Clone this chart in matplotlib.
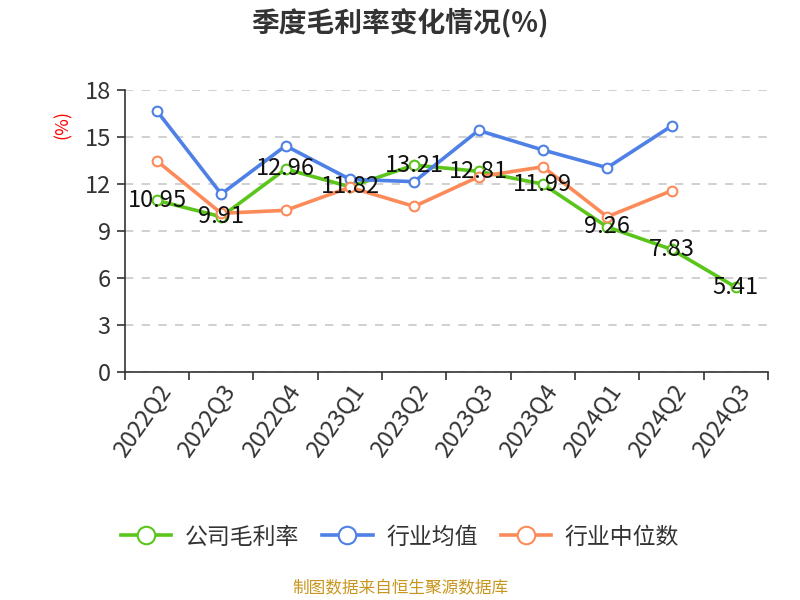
import matplotlib
matplotlib.use("Agg")
from matplotlib import pyplot as plt

plt.rcParams['font.family'] = ['Noto Sans CJK SC', 'DejaVu Sans']

quarters = ["2022Q2", "2022Q3", "2022Q4", "2023Q1", "2023Q2",
            "2023Q3", "2023Q4", "2024Q1", "2024Q2", "2024Q3"]
company = [10.95, 9.91, 12.96, 11.82, 13.21, 12.81, 11.99, 9.26, 7.83, 5.41]
ind_mean = [16.66, 11.36, 14.44, 12.3, 12.15, 15.42, 14.17, 13.04, 15.7]
ind_median = [13.47, 10.13, 10.32, 11.79, 10.57, 12.46, 13.1, 9.91, 11.57]

green = '#5bc51c'
blue = '#4e80e5'
orange = '#fd8b5a'

fig = plt.figure(figsize=(8, 6), dpi=100)
ax = fig.add_axes([0.156, 0.38, 0.804, 0.47])

x = list(range(len(quarters)))
style = dict(linewidth=2.6, marker='o', markersize=7, markerfacecolor='white',
             markeredgewidth=1.5)
ax.plot(x, company, color=green, label='公司毛利率', zorder=3, **style)
ax.plot(x[:len(ind_mean)], ind_mean, color=blue, label='行业均值', zorder=3, **style)
ax.plot(x[:len(ind_median)], ind_median, color=orange, label='行业中位数', zorder=3, **style)

for i, v in enumerate(company):
    ax.text(i, v, "{:.2f}".format(v), ha='center', va='center', fontsize=17,
            color='#111111', zorder=5, fontweight='light')

ax.set_xlim(-0.5, len(quarters) - 0.5)
ax.set_ylim(0, 18)
ax.set_yticks(range(0, 19, 3))
ax.set_xticks([i - 0.5 for i in range(len(quarters) + 1)], minor=False)
ax.set_xticklabels([])
ax.set_xticks(x, minor=True)
ax.set_xticklabels(quarters, minor=True, rotation=55, ha='right',
                   rotation_mode='anchor', fontsize=17, color='#333333',
                   fontweight='light')
ax.tick_params(axis='x', which='minor', length=0, pad=6)
ax.tick_params(axis='x', which='major', length=6, width=1.2, color='#333333')
ax.tick_params(axis='y', length=6, width=1.2, color='#333333', labelsize=17,
               labelcolor='#333333', pad=4)
for lab in ax.get_yticklabels():
    lab.set_fontweight('light')

ax.grid(axis='y', linestyle=(0, (5, 5)), color='#c8c8c8', linewidth=1.2)
ax.set_axisbelow(True)
for s in ['top', 'right']:
    ax.spines[s].set_visible(False)
for s in ['left', 'bottom']:
    ax.spines[s].set_color('#333333')
    ax.spines[s].set_linewidth(1.2)

fig.text(0.078, 0.792, '(%)', color='red', rotation=90, ha='center', va='center',
         fontsize=13)
fig.text(0.5, 0.962, '季度毛利率变化情况(%)', ha='center', va='center',
         fontsize=20, fontweight='bold', color='#333333')

leg = fig.legend(loc='center', bbox_to_anchor=(0.5, 0.105), ncol=3, frameon=False,
                 fontsize=16.5, handlelength=2.2, columnspacing=1.0, handletextpad=0.6,
                 markerscale=1.8, labelcolor='#333333')
for t in leg.get_texts():
    t.set_fontweight('light')
fig.text(0.5, 0.018, '制图数据来自恒生聚源数据库', ha='center', va='center',
         fontsize=12, color='#c8961e')

plt.savefig('out.png')
